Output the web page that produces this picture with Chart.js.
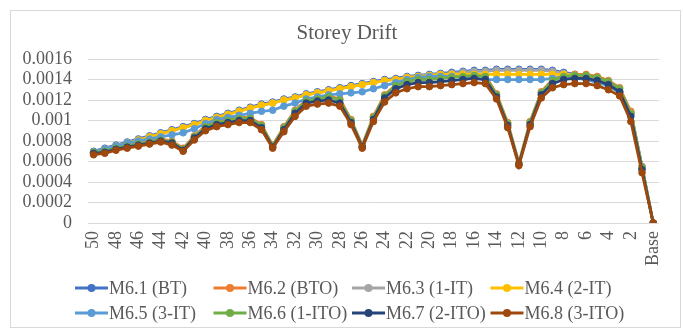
<!DOCTYPE html>
<html>
<head>
<meta charset="utf-8">
<script src="https://cdn.jsdelivr.net/npm/chart.js@4.4.1/dist/chart.umd.min.js"></script>
<style>
  html, body { margin: 0; padding: 0; background: #fff; }
  canvas { display: block; }
</style>
</head>
<body>
<canvas id="drift" width="683" height="329"></canvas>
<script>
// Storeys from the top floor down to the base
const storeys = ['50','49','48','47','46','45','44','43','42','41','40','39','38','37','36','35','34','33','32','31','30','29','28','27','26','25','24','23','22','21','20','19','18','17','16','15','14','13','12','11','10','9','8','7','6','5','4','3','2','1','Base'];
const shownTicks = ['50','48','46','44','42','40','38','36','34','32','30','28','26','24','22','20','18','16','14','12','10','8','6','4','2','Base'];

const seriesNames = ['M6.1 (BT)','M6.2 (BTO)','M6.3 (1-IT)','M6.4 (2-IT)','M6.5 (3-IT)','M6.6 (1-ITO)','M6.7 (2-ITO)','M6.8 (3-ITO)'];
const seriesColors = ['#4472C4','#ED7D31','#A5A5A5','#FFC000','#5B9BD5','#70AD47','#264478','#9E480E'];

// Storey drift per model, storey 50 → Base
const m61 = [0.00070,0.00073,0.00076,0.00079,0.00082,0.00085,0.00088,0.00091,0.00094,0.00097,0.00101,0.00104,0.00107,0.00110,0.00113,0.00116,0.00118,0.00121,0.00123,0.00126,0.00128,0.00130,0.00132,0.00134,0.00136,0.00138,0.00140,0.00141,0.00143,0.00144,0.00145,0.00146,0.00147,0.00148,0.00149,0.00149,0.00150,0.00150,0.00150,0.00150,0.00150,0.00149,0.00147,0.00145,0.00143,0.00140,0.00136,0.00129,0.00108,0.00055,0];
const m62 = [0.00069,0.00071,0.00074,0.00076,0.00078,0.00080,0.00082,0.00080,0.00073,0.00085,0.00095,0.00099,0.00101,0.00103,0.00103,0.00096,0.00076,0.00094,0.00110,0.00120,0.00122,0.00124,0.00121,0.00101,0.00076,0.00104,0.00125,0.00135,0.00139,0.00141,0.00141,0.00142,0.00143,0.00144,0.00145,0.00144,0.00126,0.00098,0.00059,0.00099,0.00128,0.00140,0.00144,0.00145,0.00145,0.00143,0.00139,0.00132,0.00109,0.00055,0];
const m63 = [0.00069,0.00072,0.00075,0.00078,0.00081,0.00084,0.00087,0.00090,0.00093,0.00096,0.00100,0.00103,0.00106,0.00109,0.00112,0.00115,0.00117,0.00120,0.00122,0.00125,0.00127,0.00129,0.00131,0.00133,0.00135,0.00137,0.00139,0.00140,0.00142,0.00143,0.00144,0.00145,0.00146,0.00147,0.00148,0.00148,0.00149,0.00149,0.00149,0.00149,0.00149,0.00148,0.00146,0.00144,0.00142,0.00139,0.00135,0.00128,0.00107,0.00054,0];
const m64 = [0.00069,0.00072,0.00075,0.00078,0.00081,0.00084,0.00087,0.00090,0.00093,0.00096,0.00100,0.00103,0.00106,0.00109,0.00112,0.00115,0.00117,0.00120,0.00122,0.00125,0.00127,0.00129,0.00131,0.00133,0.00135,0.00137,0.00139,0.00140,0.00142,0.00143,0.00144,0.00145,0.00145,0.00145,0.00145,0.00145,0.00145,0.00145,0.00145,0.00145,0.00145,0.00145,0.00145,0.00144,0.00142,0.00139,0.00135,0.00128,0.00107,0.00054,0];
const m65 = [0.00069,0.00072,0.00075,0.00078,0.00080,0.00082,0.00084,0.00086,0.00088,0.00092,0.00097,0.00101,0.00103,0.00105,0.00107,0.00109,0.00110,0.00114,0.00117,0.00121,0.00123,0.00125,0.00126,0.00127,0.00128,0.00131,0.00134,0.00137,0.00140,0.00142,0.00143,0.00143,0.00143,0.00142,0.00141,0.00140,0.00140,0.00140,0.00140,0.00140,0.00140,0.00141,0.00142,0.00141,0.00140,0.00137,0.00134,0.00127,0.00106,0.00054,0];
const m66 = [0.00069,0.00070,0.00073,0.00075,0.00077,0.00079,0.00081,0.00079,0.00072,0.00084,0.00094,0.00098,0.00100,0.00102,0.00102,0.00095,0.00075,0.00093,0.00109,0.00119,0.00121,0.00123,0.00120,0.00100,0.00075,0.00103,0.00124,0.00134,0.00138,0.00140,0.00140,0.00141,0.00142,0.00143,0.00144,0.00143,0.00125,0.00097,0.00058,0.00098,0.00127,0.00139,0.00143,0.00144,0.00144,0.00142,0.00138,0.00131,0.00107,0.00054,0];
const m67 = [0.00068,0.00069,0.00072,0.00074,0.00076,0.00078,0.00080,0.00078,0.00071,0.00083,0.00092,0.00096,0.00098,0.00100,0.00100,0.00093,0.00074,0.00091,0.00107,0.00117,0.00119,0.00120,0.00117,0.00098,0.00074,0.00101,0.00122,0.00131,0.00135,0.00137,0.00137,0.00138,0.00139,0.00140,0.00141,0.00140,0.00123,0.00095,0.00057,0.00096,0.00125,0.00136,0.00140,0.00141,0.00141,0.00139,0.00135,0.00128,0.00104,0.00052,0];
const m68 = [0.000666,0.00068,0.00071,0.00073,0.00075,0.00077,0.00079,0.00076,0.00070,0.00081,0.00090,0.00094,0.00096,0.00098,0.00098,0.00091,0.00073,0.00089,0.00104,0.00114,0.00116,0.00117,0.00114,0.00096,0.00073,0.00099,0.00118,0.00127,0.00131,0.00133,0.00133,0.00134,0.00135,0.00136,0.00137,0.00136,0.00121,0.00093,0.00056,0.00094,0.00122,0.00132,0.00135,0.00136,0.00136,0.00134,0.00130,0.00124,0.00099,0.00049,0];

const seriesValues = [m61, m62, m63, m64, m65, m66, m67, m68];

const SERIF = '"Liberation Serif", "Times New Roman", serif';
const TEXT = '#595959';

// White card with a thin frame and the centred title
const framePlugin = {
  id: 'frame',
  beforeDraw(chart) {
    const ctx = chart.ctx;
    ctx.save();
    ctx.fillStyle = '#ffffff';
    ctx.fillRect(0, 0, chart.width, chart.height);
    ctx.strokeStyle = '#D9D9D9';
    ctx.lineWidth = 1;
    ctx.strokeRect(10.5, 10.5, 670, 317);
    ctx.fillStyle = TEXT;
    ctx.font = '21px ' + SERIF;
    ctx.textAlign = 'center';
    ctx.textBaseline = 'middle';
    ctx.fillText('Storey Drift', 347, 33);
    ctx.restore();
  }
};

// Legend laid out in a four-column grid under the axis
const gridLegend = {
  id: 'gridLegend',
  afterDraw(chart) {
    const ctx = chart.ctx;
    ctx.save();
    ctx.font = '18px ' + SERIF;
    ctx.textBaseline = 'middle';
    ctx.textAlign = 'left';
    chart.data.datasets.forEach((ds, i) => {
      const x = 75 + (i % 4) * 138.5;
      const y = 288 + Math.floor(i / 4) * 25;
      ctx.strokeStyle = ds.borderColor;
      ctx.lineWidth = 3;
      ctx.beginPath();
      ctx.moveTo(x, y);
      ctx.lineTo(x + 33, y);
      ctx.stroke();
      ctx.fillStyle = ds.borderColor;
      ctx.beginPath();
      ctx.arc(x + 16.5, y, 4, 0, Math.PI * 2);
      ctx.fill();
      ctx.fillStyle = TEXT;
      ctx.fillText(ds.label, x + 34, y + 1);
    });
    ctx.restore();
  }
};

const datasets = seriesNames.map((name, i) => ({
  label: name,
  data: seriesValues[i],
  borderColor: seriesColors[i],
  backgroundColor: seriesColors[i],
  pointBackgroundColor: seriesColors[i],
  pointBorderColor: seriesColors[i],
  borderWidth: 2.75,
  pointRadius: 3.3,
  pointBorderWidth: 1,
  tension: 0,
  fill: false,
  order: seriesNames.length - i
}));

new Chart(document.getElementById('drift'), {
  type: 'line',
  data: { labels: storeys, datasets },
  options: {
    responsive: false,
    animation: false,
    devicePixelRatio: 1,
    layout: { padding: { left: 0, right: 20, top: 59, bottom: 56 } },
    plugins: {
      legend: { display: false },
      title: { display: false },
      tooltip: { enabled: false }
    },
    scales: {
      x: {
        type: 'category',
        offset: true,
        grid: { display: false, drawTicks: false },
        border: { display: false },
        afterFit(scale) { scale.height = 50; },
        ticks: {
          autoSkip: false,
          minRotation: 90,
          maxRotation: 90,
          padding: 8,
          color: TEXT,
          font: { family: SERIF, size: 18 },
          callback(value, index) {
            const lab = storeys[index];
            return shownTicks.includes(lab) ? lab : '';
          }
        }
      },
      y: {
        min: 0,
        max: 0.0016,
        grid: { color: '#D9D9D9', lineWidth: 1, drawTicks: false },
        border: { display: false },
        afterFit(scale) { scale.width = 88; },
        ticks: {
          autoSkip: false,
          stepSize: 0.0002,
          padding: 16,
          color: TEXT,
          font: { family: SERIF, size: 18 },
          callback(value) { return String(parseFloat(value.toFixed(4))); }
        }
      }
    }
  },
  plugins: [framePlugin, gridLegend]
});
</script>
</body>
</html>
